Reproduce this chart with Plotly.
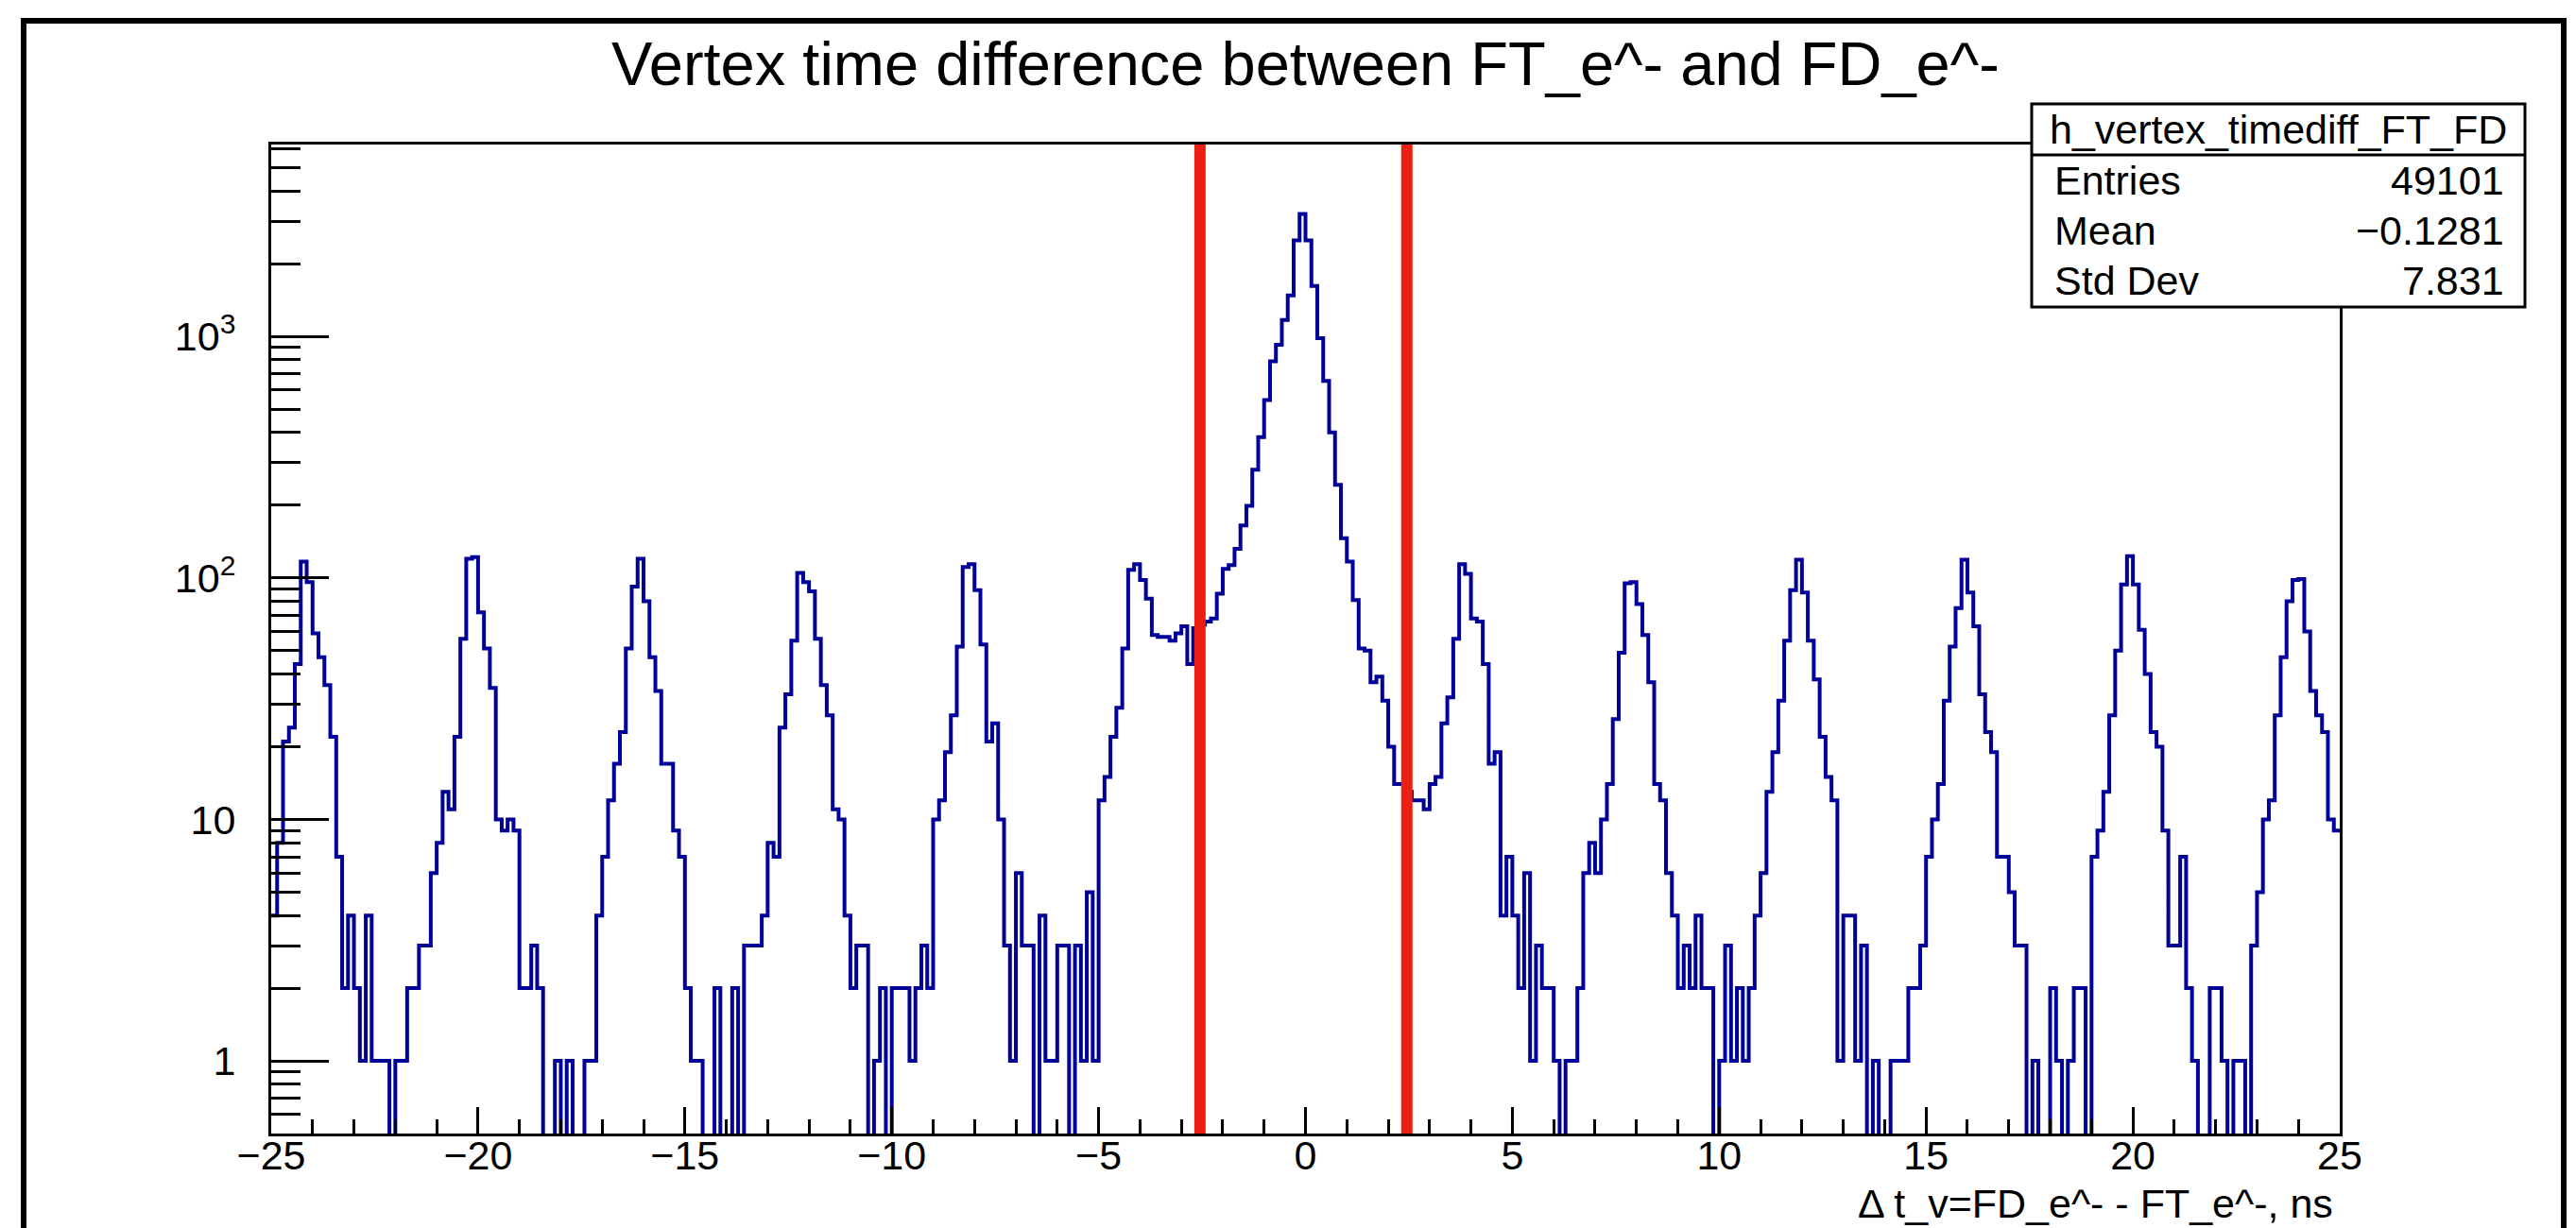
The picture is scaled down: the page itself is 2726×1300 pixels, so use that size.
import numpy as np
import plotly.graph_objects as go

# ---------------- data ----------------
x_min, x_max, n_bins = -25.0, 25.0, 350   # histogram axis range / bin count

counts_01 = [4, 8, 21, 24, 44, 117, 96, 59, 47, 36,
             22, 7, 2, 4, 2, 1, 4, 1, 1, 1,
             0, 1, 1, 2, 2, 3, 3, 6, 8, 13,
             11, 22, 56, 120, 122, 72, 51, 35, 10, 9,
             10, 9, 2, 2, 3, 2, 0, 0, 1, 0]
counts_02 = [1, 0, 0, 1, 1, 4, 7, 12, 17, 23,
             51, 92, 120, 80, 47, 34, 17, 17, 9, 7,
             2, 1, 1, 0, 0, 2, 0, 0, 2, 0,
             3, 3, 3, 4, 8, 7, 24, 33, 55, 105,
             96, 88, 56, 36, 27, 11, 10, 4, 2, 3]
counts_03 = [3, 0, 1, 2, 0, 2, 2, 2, 1, 2,
             3, 2, 10, 12, 19, 27, 52, 111, 114, 89,
             53, 21, 25, 10, 3, 1, 6, 3, 3, 0,
             4, 1, 1, 3, 3, 0, 3, 1, 5, 1,
             12, 15, 22, 29, 51, 108, 114, 98, 82, 58]
counts_04 = [57, 57, 55, 59, 63, 44, 62, 64, 66, 68,
             86, 109, 113, 132, 165, 199, 281, 383, 545, 789,
             924, 1170, 1480, 2500, 3220, 2500, 1620, 985, 655, 401,
             243, 146, 117, 81, 51, 50, 37, 39, 31, 20,
             14, 14, 13, 12, 12, 11, 14, 15, 25, 32]
counts_05 = [56, 114, 104, 68, 66, 44, 17, 19, 4, 7,
             4, 2, 6, 1, 3, 2, 2, 1, 0, 1,
             1, 2, 6, 8, 6, 10, 14, 26, 49, 95,
             96, 78, 58, 37, 14, 12, 6, 4, 2, 3,
             2, 4, 2, 2, 0, 1, 3, 1, 2, 1]
counts_06 = [2, 4, 6, 13, 19, 31, 55, 89, 119, 87,
             55, 38, 22, 15, 12, 1, 4, 4, 1, 3,
             0, 1, 0, 0, 1, 1, 1, 2, 2, 3,
             7, 10, 14, 31, 52, 75, 119, 87, 63, 33,
             23, 19, 7, 7, 5, 3, 3, 0, 1, 0]
counts_07 = [0, 2, 1, 0, 1, 2, 2, 0, 7, 9,
             13, 27, 50, 94, 123, 94, 61, 40, 23, 20,
             9, 3, 3, 7, 2, 1, 0, 0, 2, 2,
             1, 0, 1, 1, 0, 3, 5, 10, 12, 27,
             47, 80, 98, 99, 60, 34, 27, 23, 10, 9]

cut_lines = [-2.55, 2.45]

title_text = "Vertex time difference between FT_e^- and FD_e^-"
x_title_text = "\u0394 t_v=FD_e^- - FT_e^-, ns"
stat_name = "h_vertex_timediff_FT_FD"
stat_labels = ["Entries", "Mean", "Std Dev"]
stat_values = ["49101", "\u22120.1281", "7.831"]

y_tickvals = [1, 10, 100, 1000]
y_ticktext = ["1", "10", "10<sup>2</sup>", "10<sup>3</sup>"]
y_minor_mult = [2, 3, 4, 5, 6, 7, 8, 9]
y_decades = [0.1, 1, 10, 100, 1000]

# ---------------- geometry ----------------
W, H = 2726, 1300
PL, PR, PT, PB = 287, 2476, 153, 1200   # plot-area pixel box
FONT = "Liberation Sans, Arial, Helvetica, sans-serif"


def px(xpix):
    return (xpix - PL) / (PR - PL)


def py(ypix):
    return (PB - ypix) / (PB - PT)


counts = np.array(counts_01 + counts_02 + counts_03 + counts_04 +
                  counts_05 + counts_06 + counts_07, dtype=float)
edges = np.linspace(x_min, x_max, n_bins + 1)
y_floor = 0.2  # below the visible log range, so empty bins drop to the axis
yplot = np.where(counts > 0, counts, y_floor)
ys = np.append(yplot, yplot[-1])

y_minor_vals = [m * d for d in y_decades for m in y_minor_mult]
y_minor_vals = [v for v in y_minor_vals if 0.5 < v < 7000]

fig = go.Figure()
fig.add_trace(go.Scatter(
    x=edges, y=ys, mode="lines",
    line=dict(shape="hv", color="#000099", width=4),
    hoverinfo="skip", showlegend=False))

shapes = []
for c in cut_lines:
    shapes.append(dict(type="line", xref="x", yref="paper", x0=c, x1=c,
                       y0=0, y1=1, line=dict(color="rgb(236,32,18)", width=12),
                       layer="above"))
# stats box
shapes.append(dict(type="rect", xref="paper", yref="paper",
                   x0=px(2150), x1=px(2672), y0=py(325), y1=py(110),
                   fillcolor="white", line=dict(color="black", width=3),
                   layer="above"))
shapes.append(dict(type="line", xref="paper", yref="paper",
                   x0=px(2150), x1=px(2672), y0=py(164), y1=py(164),
                   line=dict(color="black", width=3), layer="above"))
# canvas border
shapes.append(dict(type="rect", xref="paper", yref="paper",
                   x0=px(25), x1=px(2713), y0=py(1320), y1=py(22),
                   line=dict(color="black", width=6), layer="above"))

annotations = [
    dict(text=title_text, x=0.5, y=py(67), xref="paper", yref="paper",
         xanchor="center", yanchor="middle", showarrow=False,
         font=dict(size=65, color="black", family=FONT)),
    dict(text=x_title_text, x=px(2471), y=py(1274), xref="paper", yref="paper",
         xanchor="right", yanchor="middle", showarrow=False,
         font=dict(size=43, color="black", family=FONT)),
    dict(text=stat_name, x=px(2411), y=py(137), xref="paper", yref="paper",
         xanchor="center", yanchor="middle", showarrow=False,
         font=dict(size=43, color="black", family=FONT)),
]
row_y = [191, 244, 297]
for lab, val, yy in zip(stat_labels, stat_values, row_y):
    annotations.append(dict(text=lab, x=px(2172), y=py(yy), xref="paper",
                            yref="paper", xanchor="left", yanchor="middle",
                            showarrow=False,
                            font=dict(size=43, color="black", family=FONT)))
    annotations.append(dict(text=val, x=px(2652), y=py(yy), xref="paper",
                            yref="paper", xanchor="right", yanchor="middle",
                            showarrow=False,
                            font=dict(size=43, color="black", family=FONT)))

fig.update_layout(
    width=W, height=H, autosize=False,
    margin=dict(l=PL, r=W - PR, t=PT, b=H - PB, pad=0),
    paper_bgcolor="white", plot_bgcolor="white",
    font=dict(family=FONT, color="black"),
    shapes=shapes, annotations=annotations, showlegend=False,
    xaxis=dict(range=[x_min, x_max], tickmode="linear", tick0=0, dtick=5,
               ticks="inside", ticklen=28, tickwidth=3, tickcolor="black",
               showline=True, linewidth=3, linecolor="black", mirror=True,
               showgrid=False, zeroline=False,
               tickfont=dict(size=43, color="black", family=FONT),
               ticklabelstandoff=-17,
               minor=dict(tickmode="linear", tick0=0, dtick=1, ticks="inside",
                          ticklen=15, tickwidth=3, tickcolor="black",
                          showgrid=False)),
    yaxis=dict(type="log", range=[-0.301, 3.795], tickmode="array",
               tickvals=y_tickvals, ticktext=y_ticktext,
               ticks="inside", ticklen=61, tickwidth=3, tickcolor="black",
               showline=True, linewidth=3, linecolor="black", mirror=True,
               showgrid=False, zeroline=False,
               tickfont=dict(size=43, color="black", family=FONT),
               ticklabelstandoff=26,
               minor=dict(tickmode="array", tickvals=y_minor_vals,
                          ticks="inside", ticklen=31, tickwidth=3,
                          tickcolor="black", showgrid=False)),
)

fig.write_html("out.html", config={"displayModeBar": False})
